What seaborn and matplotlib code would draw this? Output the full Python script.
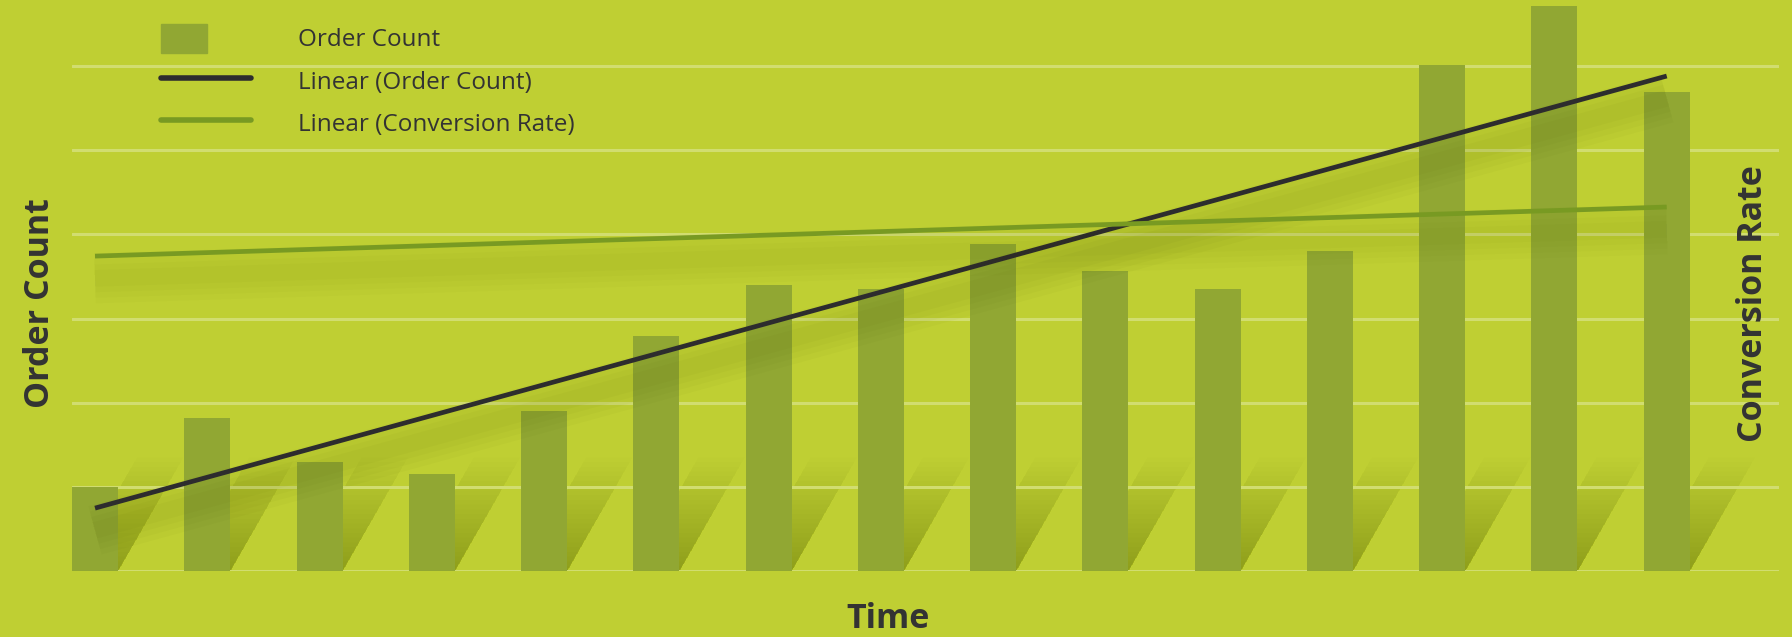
import numpy as np
import pandas as pd
import matplotlib
matplotlib.use("Agg")
import matplotlib.pyplot as plt
import matplotlib.patches as mpatches
import matplotlib.patheffects as pe
from matplotlib.legend_handler import HandlerPatch
from matplotlib.lines import Line2D
import seaborn as sns

# data
periods = list(range(1, 16))
order_count = [100, 182, 130, 115, 190, 279, 340, 335, 389, 357, 335, 380, 601, 671, 569]
# conversion rate series itself is not drawn in the chart, only its trendline
conversion_rate = [3.4, 3.7, 3.5, 3.9, 3.6, 3.8, 4.0, 3.7, 3.9, 4.1, 3.8, 4.0, 4.2, 3.9, 4.1]
legend_labels = ["Order Count", "Linear (Order Count)", "Linear (Conversion Rate)"]

BG = "#bfcf33"
BAR = "#91a733"
GRID = "#d1dd70"
DARK = "#2d2c2e"
GREEN = "#789a22"
SHADOW = "#4a5500"
TEXT = "#333333"

sns.set_style("white")
plt.rcParams["font.family"] = ["Open Sans", "DejaVu Sans"]

df = pd.DataFrame({"period": periods, "orders": order_count, "conv": conversion_rate})

fig = plt.figure(figsize=(17.92, 6.37), dpi=100, facecolor=BG)
ax = fig.add_axes([72 / 1792, 66 / 637, 1707 / 1792, 571 / 637])
ax.set_facecolor(BG)

bar_w = 0.41
sns.barplot(data=df, x="period", y="orders", native_scale=True, width=bar_w,
            color=BAR, saturation=1, errorbar=None, ax=ax, zorder=2,
            edgecolor="none", linewidth=0)

# slanted fading shadows behind the bars
shear, sh_h, n_layers = 0.0043, 135, 24
for p in periods:
    x0, x1 = p - bar_w / 2, p + bar_w / 2
    for k in range(1, n_layers + 1):
        h = sh_h * k / n_layers
        poly = mpatches.Polygon([(x0, 0), (x1, 0), (x1 + shear * h, h), (x0 + shear * h, h)],
                                closed=True, facecolor=SHADOW, edgecolor="none", alpha=0.014, zorder=0.3)
        ax.add_patch(poly)

# trendline of order count
sns.regplot(data=df, x="period", y="orders", scatter=False, ci=None, truncate=True,
            color=DARK, line_kws={"lw": 3.4, "zorder": 4, "solid_capstyle": "butt"}, ax=ax)


def blur_shadow(line, a):
    effects = [pe.SimpleLineShadow(offset=(0, -16), shadow_color=SHADOW, alpha=a, linewidth=w)
               for w in (36, 28, 20, 12)]
    line.set_path_effects(effects + [pe.Normal()])


blur_shadow(ax.lines[-1], 0.03)

ax.set_ylim(0, 678.7)
ax.set_xlim(1 - bar_w / 2, 16.0)
ax.set_yticks(np.arange(0, 700, 100))
ax.grid(axis="y", color=GRID, lw=2.2)
ax.grid(axis="x", visible=False)
ax.set_axisbelow(True)
for s in ax.spines.values():
    s.set_visible(False)

ax2 = ax.twinx()
sns.regplot(data=df, x="period", y="conv", scatter=False, ci=None, truncate=True,
            color=GREEN, line_kws={"lw": 3.4, "zorder": 4, "solid_capstyle": "butt"}, ax=ax2)
blur_shadow(ax2.lines[-1], 0.022)
ax2.set_ylim(0, 6.46)
ax2.set_xlim(1 - bar_w / 2, 16.0)
for s in ax2.spines.values():
    s.set_visible(False)
ax.tick_params(left=False, right=False, bottom=False, labelleft=False, labelbottom=False)
ax2.tick_params(left=False, right=False, labelleft=False, labelright=False)

ax.set_xlabel("Time", fontsize=24.5, fontweight="bold", color=TEXT)
ax.xaxis.set_label_coords(0.478, -0.084)
ax.xaxis.label.set_va("center")
ax.set_ylabel("Order Count", fontsize=24.5, fontweight="bold", color=TEXT)
ax.yaxis.set_label_coords(-0.019, 0.469)
ax.yaxis.label.set_va("center")
ax2.set_ylabel("Conversion Rate", fontsize=24.5, fontweight="bold", color=TEXT, rotation=90)
ax2.yaxis.set_label_coords(0.985, 0.469)
ax2.yaxis.label.set_va("center")


def narrow_patch(legend, orig_handle, xdescent, ydescent, width, height, fontsize):
    return mpatches.Rectangle((-xdescent, -ydescent), width * 0.51, height)


handles = [mpatches.Patch(color=BAR),
           Line2D([], [], color=DARK, lw=4),
           Line2D([], [], color=GREEN, lw=4)]
leg = ax2.legend(handles, legend_labels, loc="upper left",
                 bbox_to_anchor=(161 / 1792, 1 - 24 / 637), bbox_transform=fig.transFigure,
                 frameon=False, fontsize=17.5, handlelength=3.7, handleheight=1.45,
                 handletextpad=1.93, labelspacing=0.56, borderpad=0, borderaxespad=0,
                 handler_map={mpatches.Patch: HandlerPatch(patch_func=narrow_patch)})
for t in leg.get_texts():
    t.set_color(TEXT)

fig.savefig("out.png", dpi=100, facecolor=BG)
